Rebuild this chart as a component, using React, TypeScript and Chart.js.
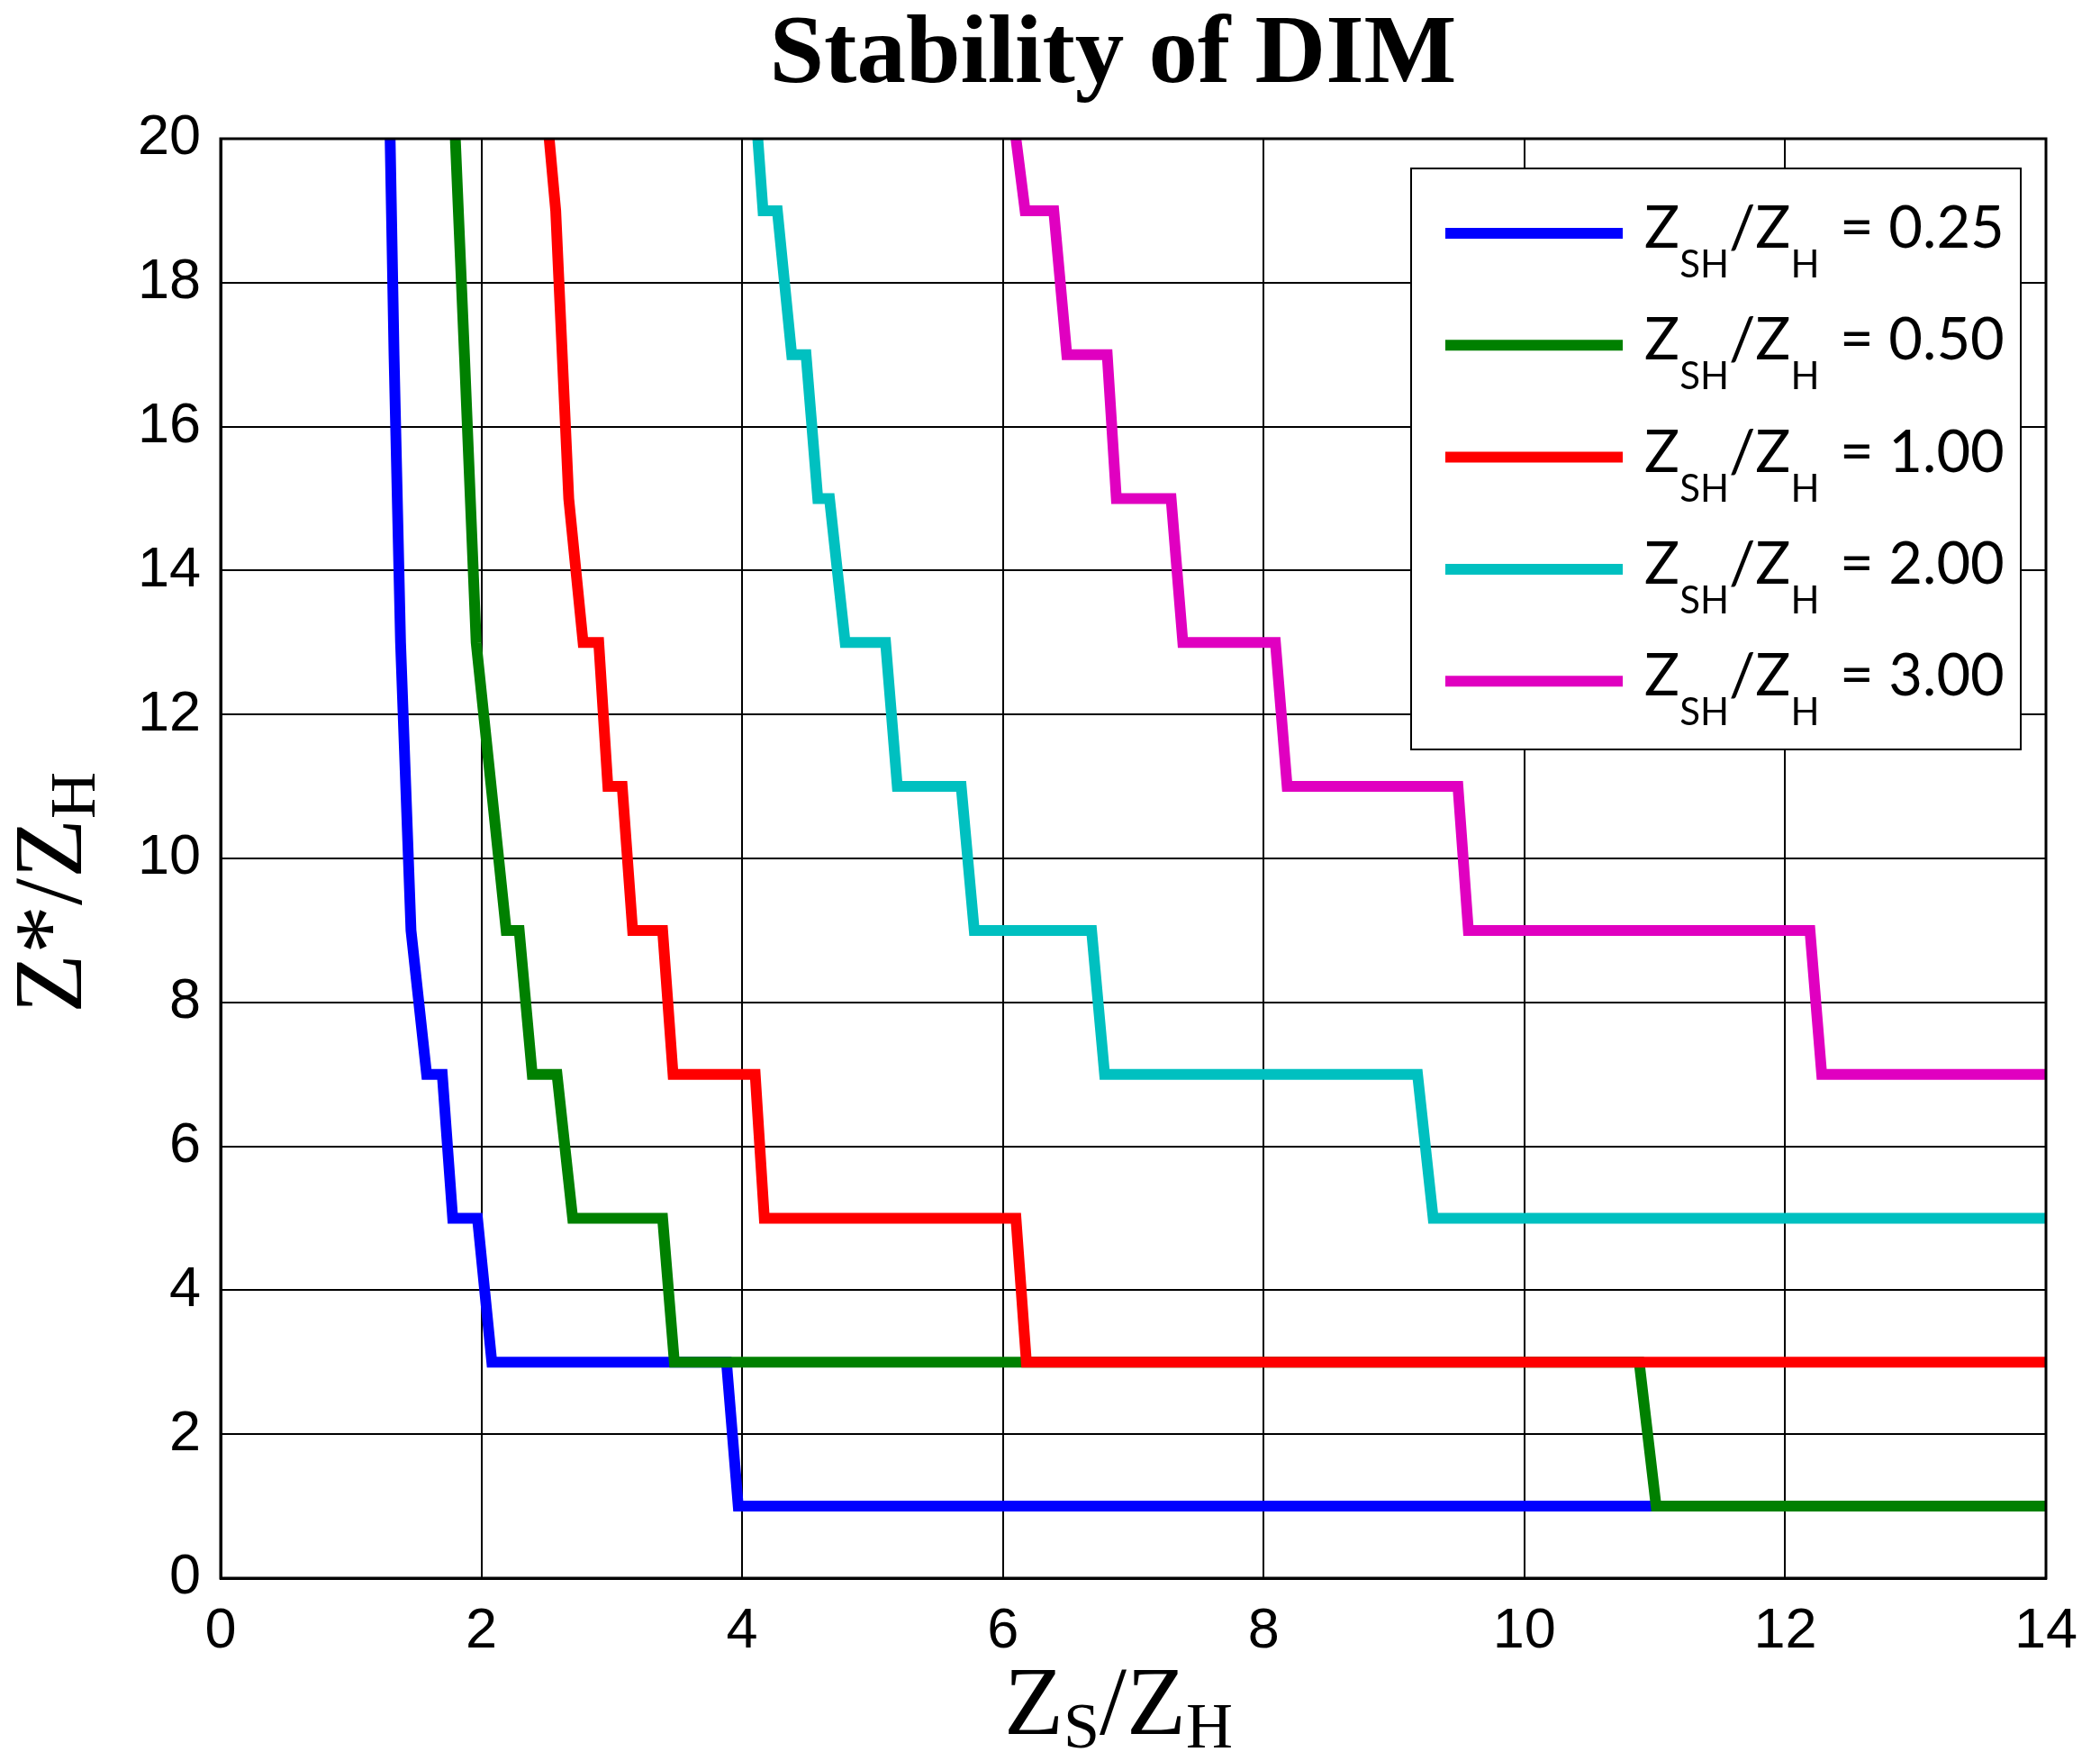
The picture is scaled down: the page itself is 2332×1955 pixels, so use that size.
import React, { useEffect, useRef } from 'react';
import { Chart, registerables } from 'chart.js';

Chart.register(...registerables);

// Z_SH / Z_H ratio of each curve and its colour
const ratios = ['0.25', '0.50', '1.00', '2.00', '3.00'];
const colors = ['#0000FF', '#008000', '#FF0000', '#00C0C0', '#E000C0'];

// Z_S/Z_H (x) and Z*/Z_H (y) corner points
const zs025 = [1.3, 1.33, 1.38, 1.46, 1.58, 1.7, 1.78, 1.97, 2.08, 3.88, 3.97, 14];
const zstar025 = [20, 17, 13, 9, 7, 7, 5, 5, 3, 3, 1, 1];

const zs050 = [1.8, 1.87, 1.96, 2.19, 2.29, 2.39, 2.58, 2.7, 3.39, 3.48, 10.88, 11.01, 14];
const zstar050 = [20, 17, 13, 9, 9, 7, 7, 5, 5, 3, 3, 1, 1];

const zs100 = [2.52, 2.57, 2.67, 2.78, 2.9, 2.97, 3.08, 3.16, 3.39, 3.47, 4.1, 4.17, 6.1, 6.18, 14];
const zstar100 = [20, 19, 15, 13, 13, 11, 11, 9, 9, 7, 7, 5, 5, 3, 3];

const zs200 = [4.12, 4.16, 4.27, 4.38, 4.49, 4.58, 4.67, 4.79, 5.1, 5.19, 5.68, 5.78, 6.68, 6.78, 9.18, 9.3, 14];
const zstar200 = [20, 19, 19, 17, 17, 15, 15, 13, 13, 11, 11, 9, 9, 7, 7, 5, 5];

const zs300 = [6.1, 6.17, 6.39, 6.49, 6.8, 6.87, 7.29, 7.38, 8.09, 8.18, 9.49, 9.57, 12.19, 12.28, 14];
const zstar300 = [20, 19, 19, 17, 17, 15, 15, 13, 13, 11, 11, 9, 9, 7, 7];

const seriesX = [zs025, zs050, zs100, zs200, zs300];
const seriesY = [zstar025, zstar050, zstar100, zstar200, zstar300];

const W = 2332;
const H = 1955;

type Part = [string, boolean];

// draws text runs, sub runs smaller and lowered; returns end x
function drawRuns(ctx: CanvasRenderingContext2D, parts: Part[], x: number, y: number, main: string, sub: string, drop: number) {
  let cx = x;
  for (const [t, isSub] of parts) {
    ctx.font = isSub ? sub : main;
    ctx.fillText(t, cx, isSub ? y + drop : y);
    cx += ctx.measureText(t).width;
  }
  return cx;
}

function runsWidth(ctx: CanvasRenderingContext2D, parts: Part[], main: string, sub: string) {
  let w = 0;
  for (const [t, isSub] of parts) {
    ctx.font = isSub ? sub : main;
    w += ctx.measureText(t).width;
  }
  return w;
}

const decorations = {
  id: 'decorations',
  afterDraw(chart: any) {
    const { ctx, chartArea: a } = chart;
    ctx.save();

    // box round the axes
    ctx.strokeStyle = '#000';
    ctx.lineWidth = 3;
    ctx.strokeRect(a.left, a.top, a.right - a.left, a.bottom - a.top);

    ctx.fillStyle = '#000';
    ctx.textAlign = 'left';
    ctx.textBaseline = 'alphabetic';

    // title
    ctx.font = 'bold 109px "Liberation Serif"';
    ctx.textAlign = 'center';
    ctx.fillText('Stability of DIM', 1236, 91);
    ctx.textAlign = 'left';

    const serif = '108px "Liberation Serif"';
    const serifSub = '72px "Liberation Serif"';

    // x axis title
    const xParts: Part[] = [['Z', false], ['S', true], ['/Z', false], ['H', true]];
    const xw = runsWidth(ctx, xParts, serif, serifSub);
    drawRuns(ctx, xParts, 1242 - xw / 2, 1925, serif, serifSub, 15);

    // y axis title
    const yParts: Part[] = [['Z*/Z', false], ['H', true]];
    const yw = runsWidth(ctx, yParts, serif, serifSub);
    ctx.save();
    ctx.translate(90, 991);
    ctx.rotate(-Math.PI / 2);
    drawRuns(ctx, yParts, -yw / 2, 0, serif, serifSub, 15);
    ctx.restore();

    // legend
    const bx = 1567, by = 187, bw = 677, bh = 645;
    ctx.fillStyle = '#fff';
    ctx.fillRect(bx, by, bw, bh);
    ctx.strokeStyle = '#000';
    ctx.lineWidth = 2;
    ctx.strokeRect(bx, by, bw, bh);

    const lato = '65px Lato';
    const latoSub = '42px Lato';
    ratios.forEach((r, i) => {
      const ly = 259 + i * 124.3;
      ctx.strokeStyle = colors[i];
      ctx.lineWidth = 12;
      ctx.lineCap = 'butt';
      ctx.beginPath();
      ctx.moveTo(1605, ly);
      ctx.lineTo(1802, ly);
      ctx.stroke();

      ctx.fillStyle = '#000';
      drawRuns(ctx, [['Z', false], ['SH', true], ['/Z', false], ['H', true]], 1826, ly + 16, lato, latoSub, 33);
      ctx.font = lato;
      ctx.fillText('= ' + r, 2043, ly + 16);
    });

    ctx.restore();
  },
};

const App = (): JSX.Element => {
  const canvasRef = useRef<HTMLCanvasElement>(null);

  useEffect(() => {
    const ctx = canvasRef.current.getContext('2d');
    const tickFont = { family: '"Liberation Sans"', size: 63 };

    const chart = new Chart(ctx, {
      type: 'line',
      data: {
        datasets: ratios.map((r, i) => ({
          label: r,
          data: seriesX[i].map((x, j) => ({ x, y: seriesY[i][j] })),
          borderColor: colors[i],
          backgroundColor: colors[i],
          borderWidth: 12,
          pointRadius: 0,
          tension: 0,
          fill: false,
          clip: 0,
          order: ratios.length - i,
        })),
      },
      options: {
        responsive: false,
        devicePixelRatio: 1,
        animation: false,
        layout: { padding: { top: 154, right: 60, left: 0, bottom: 0 } },
        plugins: {
          legend: { display: false },
          tooltip: { enabled: false },
          title: { display: false },
        },
        scales: {
          x: {
            type: 'linear',
            min: 0,
            max: 14,
            ticks: { stepSize: 2, color: '#000', font: tickFont, padding: 22, maxRotation: 0 },
            grid: { color: '#000', lineWidth: 2, drawTicks: false },
            border: { color: '#000', width: 3 },
            afterFit: (scale: any) => {
              scale.height = H - 1752;
            },
          },
          y: {
            type: 'linear',
            min: 0,
            max: 20,
            ticks: { stepSize: 2, color: '#000', font: tickFont, padding: 22 },
            grid: { color: '#000', lineWidth: 2, drawTicks: false },
            border: { color: '#000', width: 3 },
            afterFit: (scale: any) => {
              scale.width = 245;
            },
          },
        },
      },
      plugins: [decorations],
    });
    return () => {
      chart.destroy();
    };
  }, []);

  return (
    <div style={{ position: 'absolute', left: 0, top: 0, width: W, height: H, background: '#fff' }}>
      <canvas ref={canvasRef} width={W} height={H} />
    </div>
  );
};

export default App;
